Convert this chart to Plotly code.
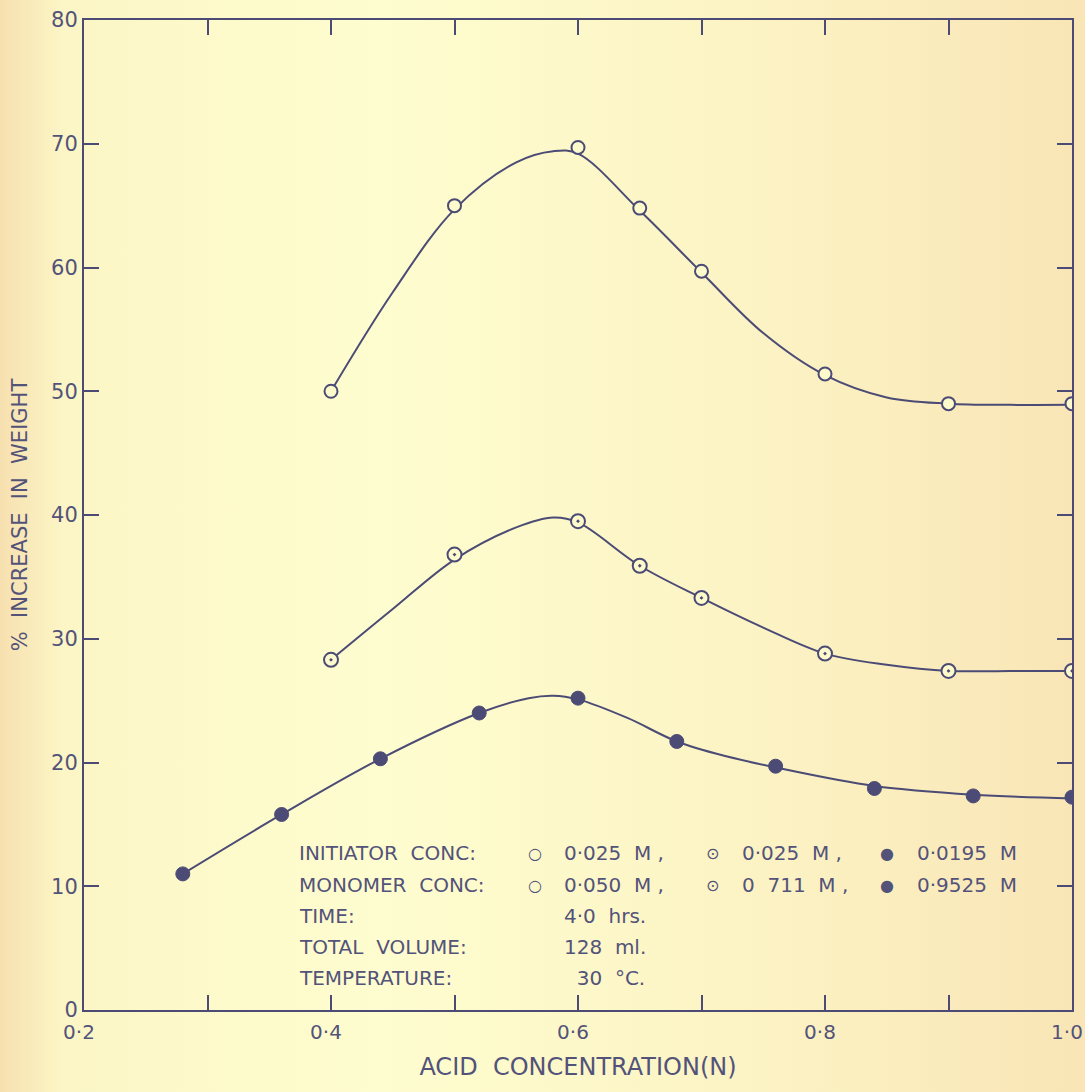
import base64
import plotly.graph_objects as go

# ---------------- data ----------------
# Series A: initiator 0.025 M, monomer 0.050 M (open circles)
xa = [0.40, 0.50, 0.60, 0.65, 0.70, 0.80, 0.90, 1.00]
ya = [50.0, 65.0, 69.7, 64.8, 59.7, 51.4, 49.0, 49.0]
# hand-drawn smooth curve for series A
cxa = [0.40, 0.45, 0.50, 0.55, 0.58, 0.60, 0.65, 0.70, 0.75, 0.80, 0.85, 0.90, 0.95, 1.00]
cya = [50.0, 58.0, 64.7, 68.5, 69.4, 69.2, 64.6, 59.6, 54.7, 51.3, 49.5, 49.0, 48.9, 48.9]

# Series B: initiator 0.025 M, monomer 0.711 M (dotted circles)
xb = [0.40, 0.50, 0.60, 0.65, 0.70, 0.80, 0.90, 1.00]
yb = [28.3, 36.8, 39.5, 35.9, 33.3, 28.8, 27.4, 27.4]
cxb = [0.40, 0.45, 0.50, 0.55, 0.58, 0.60, 0.65, 0.70, 0.75, 0.80, 0.85, 0.90, 0.95, 1.00]
cyb = [28.3, 32.4, 36.4, 39.0, 39.8, 39.4, 35.9, 33.3, 30.9, 28.8, 27.9, 27.4, 27.4, 27.4]

# Series C: initiator 0.0195 M, monomer 0.9525 M (filled circles)
xc = [0.28, 0.36, 0.44, 0.52, 0.60, 0.68, 0.76, 0.84, 0.92, 1.00]
yc = [11.0, 15.8, 20.3, 24.0, 25.2, 21.7, 19.7, 17.9, 17.3, 17.2]
cxc = [0.28, 0.36, 0.44, 0.52, 0.56, 0.58, 0.60, 0.64, 0.68, 0.72, 0.76, 0.84, 0.92, 1.00]
cyc = [11.0, 15.8, 20.3, 24.0, 25.2, 25.4, 25.1, 23.6, 21.7, 20.5, 19.6, 18.1, 17.4, 17.1]

x_tickvals = [0.2, 0.3, 0.4, 0.5, 0.6, 0.7, 0.8, 0.9, 1.0]
x_ticktext = ["0·2", "", "0·4", "", "0·6", "", "0·8", "", "1·0"]
y_tickvals = [0, 10, 20, 30, 40, 50, 60, 70, 80]
y_ticktext = ["0", "10", "20", "30", "40", "50", "60", "70", "80"]

# legend / conditions text block
rows = [
    ["INITIATOR  CONC:", "○", "0·025  M ,", "⊙", "0·025  M ,", "●", "0·0195  M"],
    ["MONOMER  CONC:", "○", "0·050  M ,", "⊙", "0  711  M ,", "●", "0·9525  M"],
    ["TIME:", "", "4·0  hrs.", "", "", "", ""],
    ["TOTAL  VOLUME:", "", "128  ml.", "", "", "", ""],
    ["TEMPERATURE:", "", "  30  °C.", "", "", "", ""],
]

# ---------------- styling ----------------
INK = "#4b4b76"
TXT = "#53537a"
BG = "#fcf8c8"
FONT = "DejaVu Sans"

fig = go.Figure()

for cx, cy in [(cxa, cya), (cxb, cyb), (cxc, cyc)]:
    fig.add_trace(go.Scatter(x=cx, y=cy, mode="lines",
                             line=dict(color=INK, width=2, shape="spline", smoothing=1.0),
                             hoverinfo="skip", showlegend=False))

fig.add_trace(go.Scatter(x=xa, y=ya, mode="markers", showlegend=False,
                         marker=dict(symbol="circle", size=13, color="#fdfbcc",
                                     line=dict(color=INK, width=2))))
fig.add_trace(go.Scatter(x=xb, y=yb, mode="markers", showlegend=False,
                         marker=dict(symbol="circle-dot", size=14, color="#fdfbcc",
                                     line=dict(color=INK, width=2))))
fig.add_trace(go.Scatter(x=xc, y=yc, mode="markers", showlegend=False,
                         marker=dict(symbol="circle", size=14, color=INK,
                                     line=dict(color=INK, width=1))))

# page geometry
W, H = 1085, 1092
L, R, T, B = 84, 13, 20, 82
PW = W - L - R
PH = H - T - B

def px(xp):
    return (xp - L) / PW

def py(yp):
    return 1 - (yp - T) / PH

col_x = [297, 535, 562, 712, 740, 887, 915]
row_y = [853, 885, 916, 947, 978]
for r, row in enumerate(rows):
    for c, txt in enumerate(row):
        if not txt:
            continue
        is_sym = txt in ("○", "⊙", "●")
        fig.add_annotation(x=px(col_x[c]), y=py(row_y[r]), xref="paper", yref="paper",
                           text=txt, showarrow=False,
                           xanchor="center" if is_sym else "left", yanchor="middle",
                           font=dict(family=FONT, size=16 if is_sym else 20, color=TXT))

# aged-paper background as an SVG gradient image
svg = (
    '<svg xmlns="http://www.w3.org/2000/svg" width="1085" height="1092" preserveAspectRatio="none">'
    '<defs><linearGradient id="g" x1="0" y1="0" x2="1" y2="0">'
    '<stop offset="0" stop-color="#f7e0b0"/>'
    '<stop offset="0.06" stop-color="#fcf6c6"/>'
    '<stop offset="0.35" stop-color="#fefdcf"/>'
    '<stop offset="0.7" stop-color="#fcf3c4"/>'
    '<stop offset="1" stop-color="#f9e5b6"/>'
    '</linearGradient></defs>'
    '<rect width="1085" height="1092" fill="url(#g)"/></svg>'
)
uri = "data:image/svg+xml;base64," + base64.b64encode(svg.encode()).decode()
fig.add_layout_image(dict(source=uri, xref="paper", yref="paper",
                          x=-L / PW, y=1 + T / PH, sizex=W / PW, sizey=H / PH,
                          xanchor="left", yanchor="top", sizing="stretch", layer="below"))

fig.update_layout(
    width=W, height=H,
    margin=dict(l=L, r=R, t=T, b=B, autoexpand=False),
    paper_bgcolor=BG, plot_bgcolor="rgba(0,0,0,0)",
    font=dict(family=FONT, color=TXT, size=20),
)
fig.update_xaxes(range=[0.2, 1.0], tickvals=x_tickvals, ticktext=x_ticktext,
                 showgrid=False, zeroline=False, showline=True, linecolor=INK, linewidth=2,
                 mirror="ticks", ticks="inside", ticklen=15, tickwidth=2, tickcolor=INK,
                 ticklabeloverflow="allow", automargin=False,
                 ticklabelshift=-5, ticklabelstandoff=3,
                 tickfont=dict(family=FONT, size=20, color=TXT),
                 title=dict(text="ACID  CONCENTRATION(N)", font=dict(family=FONT, size=24, color=TXT),
                            standoff=15))
fig.update_yaxes(range=[0, 80], tickvals=y_tickvals, ticktext=y_ticktext,
                 showgrid=False, zeroline=False, showline=True, linecolor=INK, linewidth=2,
                 mirror="ticks", ticks="inside", ticklen=15, tickwidth=2, tickcolor=INK,
                 automargin=False,
                 tickfont=dict(family=FONT, size=21, color=TXT),
                 title=dict(text="%  INCREASE  IN  WEIGHT", font=dict(family=FONT, size=21, color=TXT),
                            standoff=18))

fig.write_html("out.html", config={"displayModeBar": False},
               post_script="document.body.style.margin='0';document.body.style.padding='0';"
                           "document.body.style.background='#fcf8c8';")
